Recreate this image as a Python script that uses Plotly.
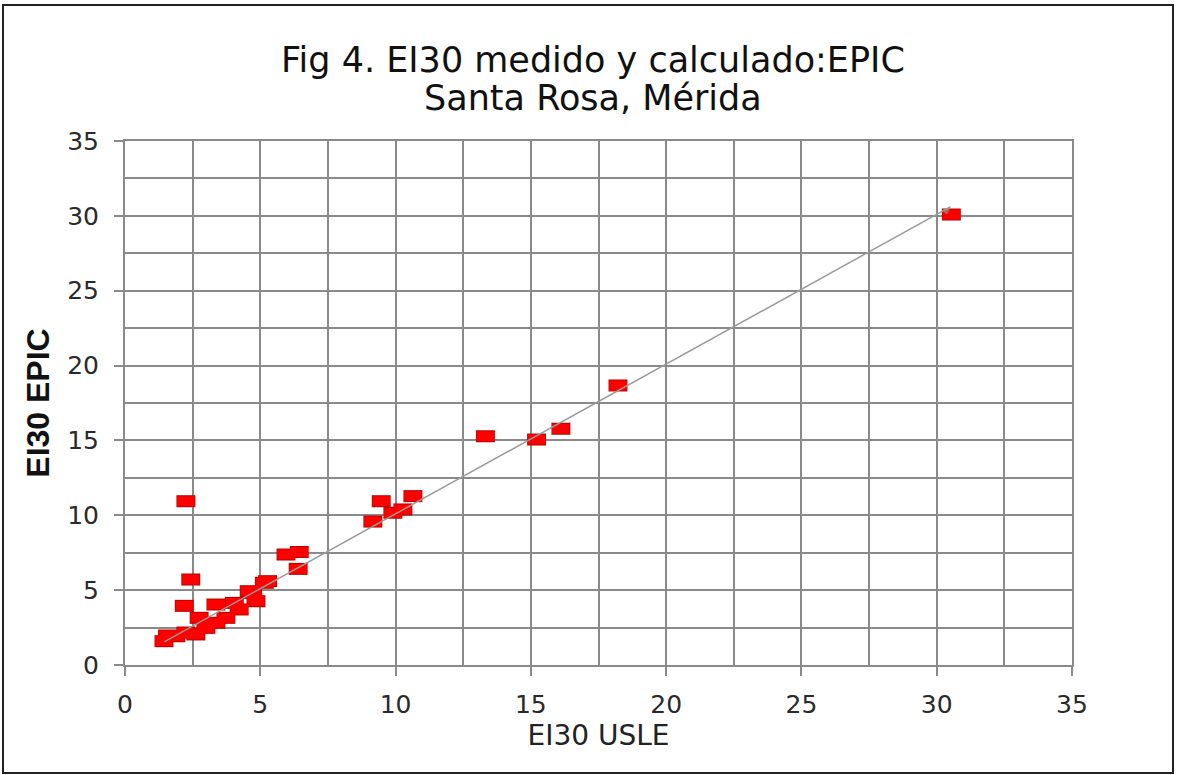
import plotly.graph_objects as go

# Measured points (EI30 USLE vs EI30 EPIC)
usle = [1.44, 1.57, 1.88, 2.25, 2.62, 2.99, 3.36, 3.73, 4.22, 4.84,
        2.19, 2.74, 3.36, 4.04, 4.59, 5.27, 2.43, 2.25, 4.72, 5.15,
        5.95, 6.44, 6.40, 9.16, 9.47, 9.90, 10.27, 10.64, 13.32, 15.21,
        16.11, 18.22, 30.54]
epic = [1.59, 1.97, 1.92, 2.17, 2.04, 2.48, 2.82, 3.15, 3.71, 4.26,
        3.95, 3.15, 4.04, 4.15, 4.93, 5.60, 5.71, 10.94, 4.82, 5.49,
        7.38, 7.55, 6.42, 9.58, 10.94, 10.17, 10.39, 11.28, 15.28, 15.06,
        15.78, 18.67, 30.09]

# Trend line end points
fit_x = [1.45, 30.5]
fit_y = [1.55, 30.6]

tick_vals = [0, 5, 10, 15, 20, 25, 30, 35]
tick_text = ["0", "5", "10", "15", "20", "25", "30", "35"]

title_lines = ["Fig 4. EI30 medido y calculado:EPIC", "Santa Rosa, Mérida"]

GRID = "#8a8a8a"
FONT = "DejaVu Sans"

fig = go.Figure()

# dark outline layer
fig.add_trace(go.Scatter(
    x=usle, y=epic, mode="markers",
    marker=dict(symbol="line-ew", size=13.5, color="#b80000",
                line=dict(color="#b80000", width=12)),
    hoverinfo="skip", showlegend=False))
# red fill layer
fig.add_trace(go.Scatter(
    x=usle, y=epic, mode="markers",
    marker=dict(symbol="line-ew", size=12.5, color="#ff0000",
                line=dict(color="#ff0000", width=10)),
    showlegend=False))
# trend line
fig.add_trace(go.Scatter(
    x=fit_x, y=fit_y, mode="lines+markers",
    line=dict(color="#9a9a9a", width=1.5),
    marker=dict(symbol=["circle", "arrow"], size=[0, 8], angle=45,
                color="#8aa08a"),
    showlegend=False))

axis_common = dict(
    range=[0, 35], tickvals=tick_vals, ticktext=tick_text,
    showgrid=True, gridcolor=GRID, gridwidth=2,
    zeroline=False, showline=True, linecolor=GRID, linewidth=2, mirror=True,
    ticks="outside", ticklen=9, tickcolor=GRID, tickwidth=2,
    tickfont=dict(family=FONT, size=25, color="#2a2a2a"),
    minor=dict(dtick=2.5, tick0=0, showgrid=True, gridcolor=GRID, gridwidth=2,
               ticks="", ticklen=0),
)

fig.update_layout(
    width=1178, height=775,
    margin=dict(l=125, r=106, t=141, b=110),
    paper_bgcolor="white", plot_bgcolor="white",
    xaxis=dict(**axis_common, ticklabelstandoff=7,
               title=dict(text="EI30 USLE", standoff=0,
                          font=dict(family=FONT, size=28, color="#222222"))),
    yaxis=dict(**axis_common, ticklabelstandoff=10,
               title=dict(text="<b>EI30 EPIC</b>", standoff=8,
                          font=dict(family="Liberation Sans", size=32,
                                    color="#111111"))),
    annotations=[
        dict(text=title_lines[0], xref="paper", yref="paper",
             x=(593 - 125) / 947, y=(665 - 60) / 524,
             xanchor="center", yanchor="middle", showarrow=False,
             font=dict(family=FONT, size=35, color="#111111")),
        dict(text=title_lines[1], xref="paper", yref="paper",
             x=(593 - 125) / 947, y=(665 - 98) / 524,
             xanchor="center", yanchor="middle", showarrow=False,
             font=dict(family=FONT, size=35, color="#111111")),
    ],
    shapes=[dict(type="rect", xref="paper", yref="paper",
                 x0=(3 - 125) / 947, x1=(1173 - 125) / 947,
                 y0=(665 - 773) / 524, y1=(665 - 5) / 524,
                 line=dict(color="#222222", width=2), layer="below")],
)

fig.write_html("out.html", config={"displayModeBar": False},
               post_script="document.body.style.margin='0';document.body.style.overflow='hidden';")
